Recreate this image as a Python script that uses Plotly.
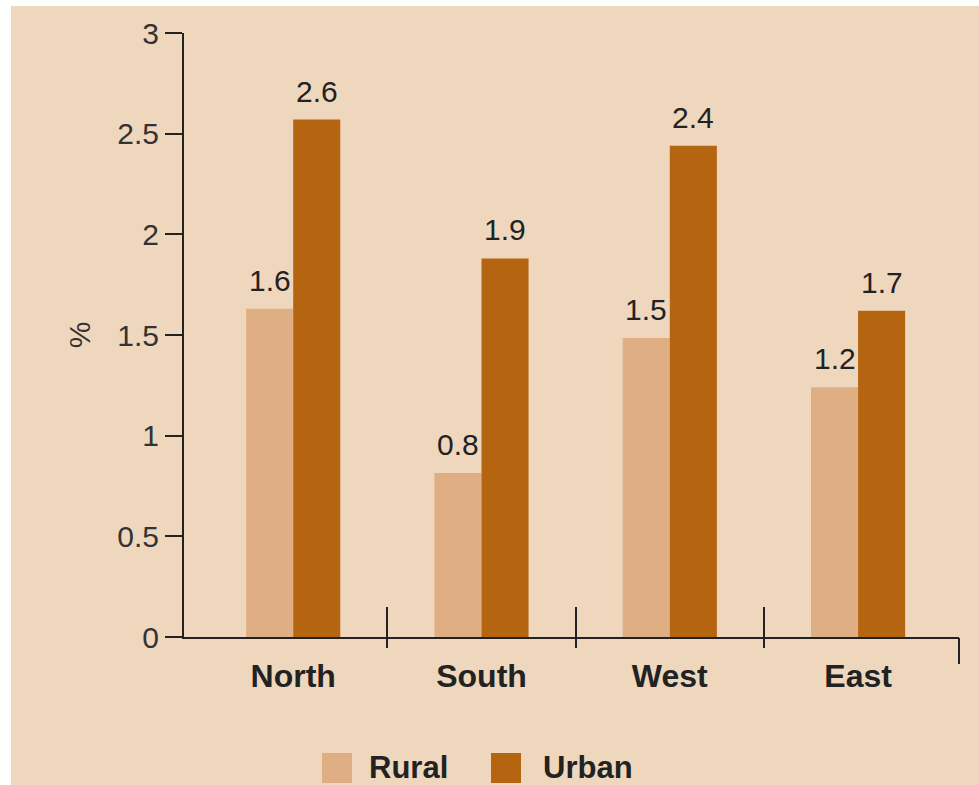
import plotly.graph_objects as go

categories = ["North", "South", "West", "East"]
rural_values = [1.63, 0.815, 1.485, 1.24]
urban_values = [2.57, 1.88, 2.44, 1.62]
rural_labels = ["1.6", "0.8", "1.5", "1.2"]
urban_labels = ["2.6", "1.9", "2.4", "1.7"]
series_names = ["Rural", "Urban"]
y_tick_vals = [0, 0.5, 1, 1.5, 2, 2.5, 3]
y_tick_text = ["0", "0.5", "1", "1.5", "2", "2.5", "3"]

BG = "#efd7be"
RURAL_C = "#dfae83"
URBAN_C = "#b56410"
AX_C = "#222222"
TICK_C = "#333333"
FONT = "Liberation Sans, Arial, sans-serif"

W, H = 979, 785
L, R, T, B = 184, 20, 33, 148
pw, ph = W - L - R, H - T - B

xpos = list(range(len(categories)))
x_range = [-0.58, 3.536]
bargap = 0.5
bar_w = (1 - bargap) / 2


def px_to_paper_x(px):
    return (px - L) / pw


def px_to_paper_y(py):
    return (H - B - py) / ph


fig = go.Figure()
fig.add_trace(go.Bar(x=xpos, y=rural_values, name=series_names[0], showlegend=False,
                     marker=dict(color=RURAL_C, line=dict(width=0))))
fig.add_trace(go.Bar(x=xpos, y=urban_values, name=series_names[1], showlegend=False,
                     marker=dict(color=URBAN_C, line=dict(width=0))))
# empty helper traces so the overlaying tick-only axes get drawn
for ax in ["x2", "x3", "x4"]:
    fig.add_trace(go.Scatter(x=[], y=[], xaxis=ax, yaxis="y", showlegend=False,
                             hoverinfo="skip", mode="markers"))

LABEL_SIZE = 30
annotations = []
for vals, labs, off in [(rural_values, rural_labels, -bar_w / 2),
                        (urban_values, urban_labels, bar_w / 2)]:
    for i, (v, t) in enumerate(zip(vals, labs)):
        annotations.append(dict(x=xpos[i] + off, y=v, text=t, xref="x", yref="y",
                                showarrow=False, yanchor="bottom", yshift=10,
                                font=dict(family=FONT, size=LABEL_SIZE, color=AX_C)))

shapes = [
    dict(type="rect", xref="paper", yref="paper", layer="above",
         x0=px_to_paper_x(0), x1=px_to_paper_x(11), y0=px_to_paper_y(H), y1=px_to_paper_y(0),
         fillcolor="white", line=dict(width=0)),
    dict(type="rect", xref="paper", yref="paper", layer="above",
         x0=px_to_paper_x(0), x1=px_to_paper_x(W), y0=px_to_paper_y(6), y1=px_to_paper_y(0),
         fillcolor="white", line=dict(width=0)),
]

# legend (swatch + name) below the plot
legend_items = [(series_names[0], RURAL_C, 322, 367), (series_names[1], URBAN_C, 491, 541)]
for name, col, sx, tx in legend_items:
    shapes.append(dict(type="rect", xref="paper", yref="paper", layer="above",
                       x0=px_to_paper_x(sx), x1=px_to_paper_x(sx + 30),
                       y0=px_to_paper_y(783), y1=px_to_paper_y(753),
                       fillcolor=col, line=dict(width=0)))
    annotations.append(dict(xref="paper", yref="paper", x=px_to_paper_x(tx),
                            y=px_to_paper_y(767), xanchor="left", yanchor="middle",
                            text=f"<b>{name}</b>", showarrow=False,
                            font=dict(family=FONT, size=31, color=AX_C)))

sep_vals = [i + 0.5 for i in xpos[:-1]]
tick_axis = dict(type="linear", range=x_range, overlaying="x", anchor="y", side="bottom",
                 tickmode="array", tickwidth=2, tickcolor=AX_C, showticklabels=False,
                 showgrid=False, zeroline=False, showline=False, fixedrange=True)

fig.update_layout(
    width=W, height=H,
    margin=dict(l=L, r=R, t=T, b=B, autoexpand=False),
    paper_bgcolor=BG, plot_bgcolor=BG,
    barmode="group", bargap=bargap, bargroupgap=0,
    font=dict(family=FONT, size=30, color=AX_C),
    showlegend=False,
    xaxis=dict(type="linear", range=x_range, tickmode="array", tickvals=xpos,
               ticktext=categories, ticks="", showgrid=False, zeroline=False,
               showline=True, linecolor=AX_C, linewidth=2, ticklabelstandoff=10,
               tickfont=dict(family=FONT, size=32, color=AX_C, weight="bold")),
    xaxis2=dict(tick_axis, tickvals=sep_vals, ticks="inside", ticklen=30),
    xaxis3=dict(tick_axis, tickvals=sep_vals, ticks="outside", ticklen=10),
    xaxis4=dict(tick_axis, tickvals=[x_range[1] - 0.002], ticks="outside", ticklen=26),
    yaxis=dict(range=[0, 3], tickmode="array", tickvals=y_tick_vals, ticktext=y_tick_text,
               ticks="outside", ticklen=17, tickwidth=2, tickcolor=AX_C,
               showline=True, linecolor=AX_C, linewidth=2, showgrid=False, zeroline=False,
               tickfont=dict(family=FONT, size=30, color=TICK_C),
               title=dict(text="%", standoff=18, font=dict(family=FONT, size=30, color=TICK_C))),
    annotations=annotations,
    shapes=shapes,
)

fig.write_html("out.html")
